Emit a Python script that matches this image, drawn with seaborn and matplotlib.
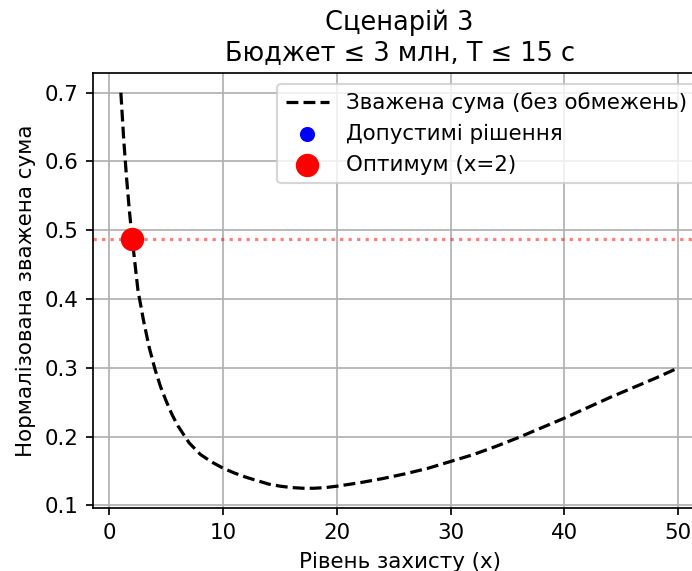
import matplotlib
matplotlib.use("Agg")
import matplotlib.pyplot as plt
import seaborn as sns
import pandas as pd

# Data
x_levels = [1, 1.25, 1.5, 1.75, 2, 2.5, 3, 3.5, 4, 4.5, 5, 5.5, 6, 7, 8, 9, 10,
            11, 12, 13, 14, 15, 16, 17, 18, 19, 20, 22, 24, 26, 28, 30, 32, 34,
            36, 38, 40, 42, 44, 46, 48, 50]
weighted_sum = [0.700, 0.632, 0.576, 0.528, 0.487, 0.413, 0.368, 0.329, 0.298,
                0.272, 0.251, 0.232, 0.216, 0.191, 0.174, 0.163, 0.154,
                0.147, 0.141, 0.136, 0.131, 0.128, 0.126, 0.125, 0.125, 0.126,
                0.128, 0.133, 0.139, 0.146, 0.154, 0.164, 0.174, 0.186,
                0.199, 0.213, 0.227, 0.242, 0.257, 0.271, 0.285, 0.300]
feasible_x = [2]
feasible_y = [0.487]
opt_x = [2]
opt_y = [0.487]

title = "Сценарій 3\nБюджет ≤ 3 млн, T ≤ 15 с"
xlabel = "Рівень захисту (x)"
ylabel = "Нормалізована зважена сума"
lbl_line = "Зважена сума (без обмежень)"
lbl_feas = "Допустимі рішення"
lbl_opt = "Оптимум (x=2)"

curve = pd.DataFrame({"x": x_levels, "y": weighted_sum})
feas = pd.DataFrame({"x": feasible_x, "y": feasible_y})
opt = pd.DataFrame({"x": opt_x, "y": opt_y})

DPI = 154
plt.rcParams['font.family'] = ['DejaVu Sans']
fig = plt.figure(figsize=(692 / DPI, 571 / DPI), dpi=DPI)
ax = fig.add_axes([0.1344, 0.1103, 0.886, 0.762])

sns.lineplot(data=curve, x="x", y="y", ax=ax, color="black", linestyle="--",
             linewidth=1.5, label=lbl_line)
sns.scatterplot(data=feas, x="x", y="y", ax=ax, color="blue", s=50,
                linewidth=0, label=lbl_feas, zorder=3)
sns.scatterplot(data=opt, x="x", y="y", ax=ax, color="red", s=120,
                linewidth=0, label=lbl_opt, zorder=5)
ax.axhline(opt_y[0], color="red", linestyle=":", alpha=0.5, linewidth=1.5)

ax.set_title(title)
ax.set_xlabel(xlabel)
ax.set_ylabel(ylabel)
ax.grid(True)
ax.legend(loc="upper right")

fig.savefig("out.png", dpi=DPI)
